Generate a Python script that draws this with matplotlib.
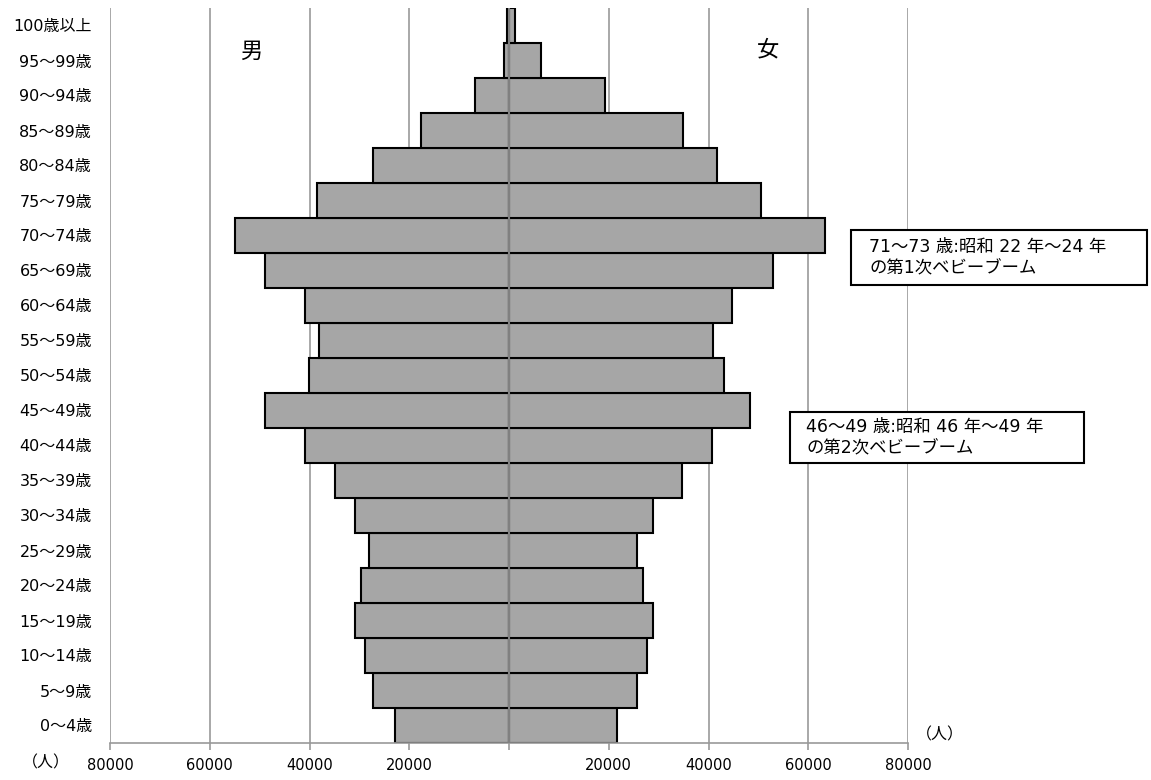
import matplotlib
matplotlib.use("Agg")
import matplotlib.pyplot as plt
from matplotlib.patches import Rectangle
import numpy as np

plt.rcParams['font.family'] = ['DejaVu Sans', 'Noto Sans CJK JP']

age_groups = ["0～4歳", "5～9歳", "10～14歳", "15～19歳", "20～24歳", "25～29歳",
              "30～34歳", "35～39歳", "40～44歳", "45～49歳", "50～54歳", "55～59歳",
              "60～64歳", "65～69歳", "70～74歳", "75～79歳", "80～84歳", "85～89歳",
              "90～94歳", "95～99歳", "100歳以上"]
male = [22900, 27200, 28900, 30900, 29600, 28100, 30900, 34900, 40900, 49000,
        40100, 38100, 40900, 49000, 55000, 38400, 27200, 17600, 6900, 1100, 400]
female = [21600, 25700, 27600, 28900, 26900, 25600, 28900, 34600, 40700, 48400,
          43100, 41000, 44700, 52900, 63400, 50600, 41700, 34900, 19300, 6500, 1300]
xticks = [-80000, -60000, -40000, -20000, 0, 20000, 40000, 60000, 80000]
xticklabels = ["80000", "60000", "40000", "20000", "", "20000", "40000", "60000", "80000"]
note1 = "71～73 歳:昭和 22 年～24 年\nの第1次ベビーブーム"
note2 = "46～49 歳:昭和 46 年～49 年\nの第2次ベビーブーム"

W, H = 1151, 780
fig = plt.figure(figsize=(W/100, H/100), dpi=100)
ax = fig.add_axes([110/W, 1-743/H, (908-110)/W, (743-8)/H])

y = np.arange(len(age_groups))
ax.barh(y, -np.array(male), height=1.0, color='#a6a6a6', edgecolor='black', linewidth=1.5, zorder=2)
ax.barh(y, female, height=1.0, color='#a6a6a6', edgecolor='black', linewidth=1.5, zorder=2)
ax.axvline(0, color='#808080', lw=1.5, zorder=4)

ax.set_xlim(-80000, 80000)
ax.set_ylim(-0.5, len(age_groups)-0.5)
ax.set_xticks(xticks)
ax.set_xticklabels(xticklabels, fontsize=10.5)
ax.set_yticks(y)
ax.set_yticklabels(age_groups, fontsize=11.5)
ax.tick_params(axis='y', length=0, pad=13)
ax.tick_params(axis='x', length=5, color='#999999', width=1.2, pad=6)
ax.grid(axis='x', color='#999999', lw=1.2, zorder=0)
ax.set_axisbelow(True)
for s in ['top', 'right', 'left']:
    ax.spines[s].set_visible(False)
ax.spines['bottom'].set_color('#999999')
ax.spines['bottom'].set_linewidth(1.2)

fig.text(251/W, 1-52/H, "男", fontsize=16, ha='center', va='center')
fig.text(768/W, 1-50/H, "女", fontsize=16, ha='center', va='center')

def note_box(x0, y0, x1, y1, tx, text):
    fig.patches.append(Rectangle((x0/W, 1-y1/H), (x1-x0)/W, (y1-y0)/H,
                                 transform=fig.transFigure, fc='white', ec='black', lw=1.5, zorder=5))
    fig.text(tx/W, 1-(y0+y1)/2/H, text, fontsize=12.5, ha='left', va='center',
             linespacing=1.25, zorder=6)

note_box(851, 230, 1147, 285, 869, note1)
note_box(790, 412, 1084, 463, 806, note2)

fig.text(46/W, 1-763/H, "（人）", fontsize=11.5, ha='center', va='center',
         family=['Noto Sans CJK JP'])
fig.text(940/W, 1-735/H, "（人）", fontsize=11.5, ha='center', va='center',
         family=['Noto Sans CJK JP'])

fig.savefig("out.png", dpi=100)
